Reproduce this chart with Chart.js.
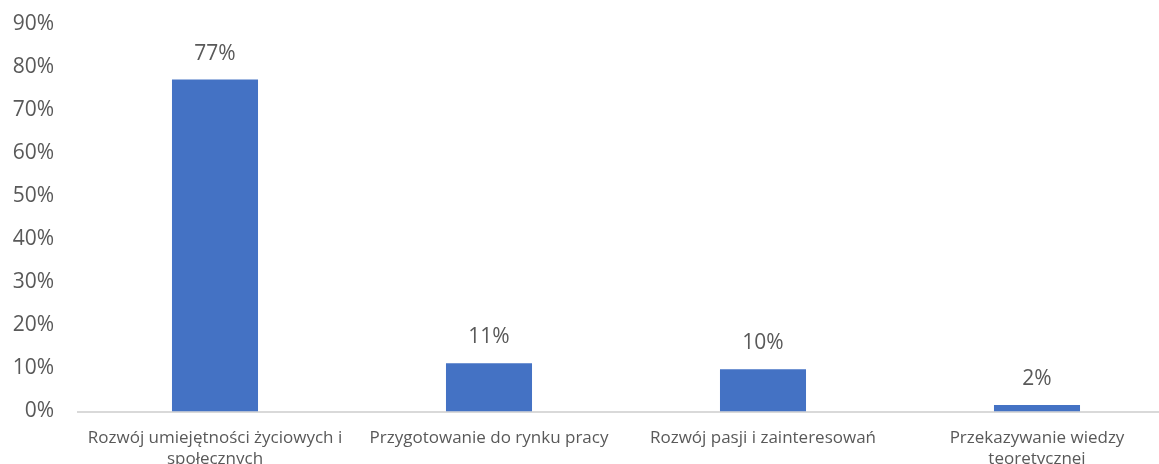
<!DOCTYPE html>
<html>
<head>
<meta charset="utf-8">
<script src="https://cdn.jsdelivr.net/npm/chart.js@4/dist/chart.umd.min.js"></script>
<style>
html,body{margin:0;padding:0;background:#fff;overflow:hidden}
#wrap{width:1159px;height:464px;overflow:hidden;position:relative}
#box{width:1180px;height:486px;position:absolute;left:0;top:0}
</style>
</head>
<body>
<div id="wrap"><div id="box"><canvas id="chart"></canvas></div></div>
<script>
const categories=[
["Rozwój umiejętności życiowych i","społecznych"],
["Przygotowanie do rynku pracy"],
["Rozwój pasji i zainteresowań"],
["Przekazywanie wiedzy","teoretycznej"]
]
const values=[77.1,11.2,9.8,1.5]
const yTicks=[0,10,20,30,40,50,60,70,80,90]

const textColor="#595959"
const fontFamily="'Open Sans', 'Liberation Sans', sans-serif"

const barLabels={
id:"barLabels",
afterDatasetsDraw(chart){
const ctx=chart.ctx
const meta=chart.getDatasetMeta(0)
ctx.save()
ctx.fillStyle=textColor
ctx.font="21px "+fontFamily
ctx.textAlign="center"
ctx.textBaseline="middle"
meta.data.forEach((bar,i)=>{
ctx.fillText(Math.round(values[i])+"%",bar.x,bar.y-26)
})
ctx.restore()
}
}

new Chart(document.getElementById("chart"),{
type:"bar",
data:{
labels:categories,
datasets:[{
data:values,
backgroundColor:"#4472C4",
categoryPercentage:1,
barPercentage:0.314
}]
},
options:{
responsive:true,
maintainAspectRatio:false,
animation:false,
layout:{padding:{top:0,left:10,right:6,bottom:0}},
plugins:{legend:{display:false},tooltip:{enabled:false}},
scales:{
x:{
grid:{display:false,drawTicks:false},
border:{color:"#d9d9d9",width:2},
ticks:{color:textColor,font:{family:fontFamily,size:17,lineHeight:1.25},padding:16,maxRotation:0,autoSkip:false},
afterFit(axis){axis.paddingLeft=0;axis.paddingRight=0}
},
y:{
min:0,max:90,
afterBuildTicks(axis){axis.ticks=yTicks.map(v=>({value:v}))},
grid:{display:false,drawTicks:false},
border:{display:false},
ticks:{color:textColor,font:{family:fontFamily,size:21},padding:24,callback:v=>v+"%"},
afterFit(axis){axis.width=68;axis.paddingTop=24;axis.paddingBottom=0}
}
}
},
plugins:[barLabels]
})
</script>
</body>
</html>
